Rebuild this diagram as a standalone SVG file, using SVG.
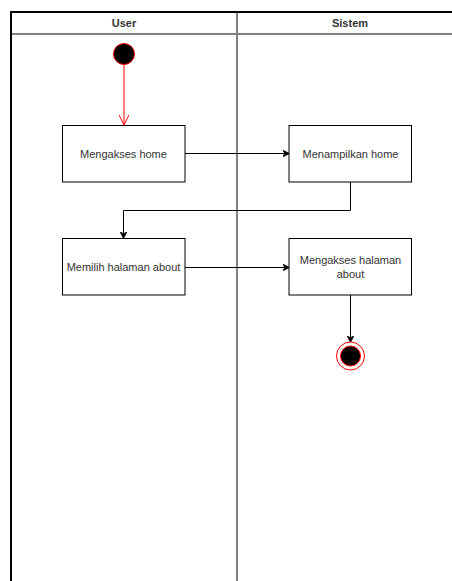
<svg xmlns="http://www.w3.org/2000/svg" width="452" height="581" viewBox="0 0 452 581">
<defs>
<style>
.lane{fill:none;stroke:#808080;stroke-width:2}
.border{fill:none;stroke:#000;stroke-width:2}
.hdr{font-family:"Liberation Sans",Arial,sans-serif;font-size:11px;font-weight:bold;fill:#333;text-anchor:middle}
.box{fill:#fff;stroke:#000;stroke-width:1}
.lbl{font-family:"Liberation Sans",Arial,sans-serif;font-size:11px;fill:#333;text-anchor:middle}
.edge{fill:none;stroke:#000;stroke-width:1}
.redge{fill:none;stroke:#ff0000;stroke-width:1}
</style>
<marker id="arr" viewBox="0 0 10 10" refX="9" refY="5" markerWidth="7" markerHeight="7" orient="auto" markerUnits="userSpaceOnUse">
<path d="M0,0 L10,5 L0,10 L3,5 Z" fill="#000" stroke="#000"/>
</marker>
<marker id="rarr" viewBox="0 0 10 10" refX="10" refY="5" markerWidth="10" markerHeight="10" orient="auto" markerUnits="userSpaceOnUse">
<path d="M0,0 L10,5 L0,10" fill="none" stroke="#ff0000" stroke-width="1"/>
</marker>
</defs>
<rect width="452" height="581" fill="#fff"/>
<g id="lanes">
<line class="lane" x1="11" y1="34" x2="452" y2="34"/>
<line class="lane" x1="237" y1="12" x2="237" y2="581"/>
<line class="border" x1="11" y1="12" x2="452" y2="12"/>
<line class="border" x1="11" y1="11" x2="11" y2="581"/>
<text class="hdr" x="124" y="27">User</text>
<text class="hdr" x="350" y="27">Sistem</text>
</g>
<g id="connectors">
<line class="redge" x1="124" y1="64" x2="124" y2="125" marker-end="url(#rarr)"/>
<line class="edge" x1="185" y1="153.5" x2="289" y2="153.5" marker-end="url(#arr)"/>
<polyline class="edge" points="350.5,182 350.5,210.5 123.5,210.5 123.5,238" marker-end="url(#arr)"/>
<line class="edge" x1="185" y1="267.5" x2="289" y2="267.5" marker-end="url(#arr)"/>
<line class="edge" x1="350.5" y1="295" x2="350.5" y2="342" marker-end="url(#arr)"/>
</g>
<g id="start">
<circle cx="124" cy="54" r="10.5" fill="#000" stroke="#ff0000" stroke-width="1"/>
</g>
<g id="n1">
<rect class="box" x="62.5" y="125.5" width="122.5" height="56.5"/>
<text class="lbl" x="123.5" y="157.5">Mengakses home</text>
</g>
<g id="n2">
<rect class="box" x="289" y="125.5" width="122.5" height="56.5"/>
<text class="lbl" x="350.5" y="157.5">Menampilkan home</text>
</g>
<g id="n3">
<rect class="box" x="62.5" y="238.5" width="122.5" height="56.5"/>
<text class="lbl" x="123.5" y="270.5">Memilih halaman about</text>
</g>
<g id="n4">
<rect class="box" x="289" y="238.5" width="122.5" height="56.5"/>
<text class="lbl" x="350.5" y="264">Mengakses halaman</text>
<text class="lbl" x="350.5" y="277.5">about</text>
</g>
<g id="end">
<circle cx="350.5" cy="356" r="14" fill="#fff" stroke="#ff0000" stroke-width="1"/>
<circle cx="350.5" cy="356" r="10" fill="#000" stroke="#ff0000" stroke-width="1"/>
</g>
</svg>
